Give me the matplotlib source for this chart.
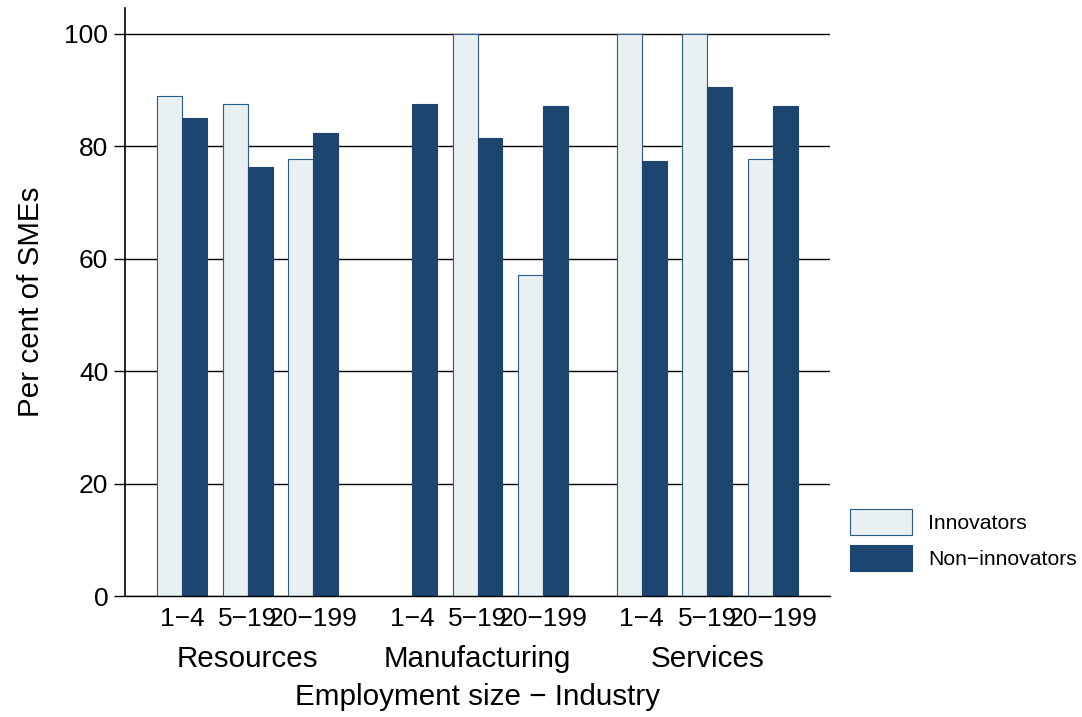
import matplotlib
matplotlib.use("Agg")
import matplotlib.pyplot as plt
import matplotlib.transforms as mtransforms
import numpy as np

plt.rcParams['font.family'] = ['Liberation Sans', 'DejaVu Sans']

industries = ["Resources", "Manufacturing", "Services"]
sizes = ["1\u22124", "5\u221219", "20\u2212199"]
innovators = [88.9, 87.5, 77.8, np.nan, 100.0, 57.1, 100.0, 100.0, 77.8]
non_innovators = [85.0, 76.3, 82.4, 87.5, 81.5, 87.2, 77.4, 90.5, 87.2]

light = "#e8f0f2"
dark = "#1c4670"
edge = "#2c5b8a"

# positions: three bars per group, 1.5 gap between groups
pos = []
for g in range(len(industries)):
    for s in range(len(sizes)):
        pos.append(g * 3.5 + s)
pos = np.array(pos)
w = 0.38

fig = plt.figure(figsize=(10.82, 7.17), dpi=100)
ax = fig.add_axes([125 / 1082, 1 - 596 / 717, 705 / 1082, 588 / 717])

b1 = ax.bar(pos - w / 2, innovators, w, color=light, edgecolor=edge, linewidth=0.8,
            label="Innovators", zorder=3)
b2 = ax.bar(pos + w / 2, non_innovators, w, color=dark, edgecolor=dark, linewidth=0.8,
            label="Non\u2212innovators", zorder=3)

ax.set_xlim(-0.87, 9.87)
ax.set_ylim(0, 104.6)
ax.set_yticks([0, 20, 40, 60, 80, 100])
ax.yaxis.grid(True, color="black", linewidth=1.0)
ax.set_axisbelow(True)
ax.tick_params(axis='y', labelsize=19, length=8, width=1.0, pad=4)
ax.tick_params(axis='x', labelsize=19, length=0, pad=8)
ax.set_xticks(pos)
ax.set_xticklabels(sizes * len(industries))

for side in ["top", "right"]:
    ax.spines[side].set_visible(False)
ax.spines["bottom"].set_color("black")
ax.spines["bottom"].set_linewidth(1.0)
ax.spines["bottom"].set_zorder(4)
ax.spines["left"].set_linewidth(1.2)

ax.set_ylabel("Per cent of SMEs", fontsize=21.3, labelpad=14)

trans = mtransforms.blended_transform_factory(ax.transData, fig.transFigure)
for g, name in enumerate(industries):
    ax.text(g * 3.5 + 1, 1 - 659 / 717, name, transform=trans, fontsize=21.3,
            ha="center", va="center")
fig.text(477.5 / 1082, 1 - 697 / 717, "Employment size \u2212 Industry", fontsize=21.3,
         ha="center", va="center")

fig.legend(handles=[b1, b2], loc="upper left", bbox_to_anchor=(850 / 1082, 1 - 509 / 717),
           frameon=False, fontsize=15.2, handlelength=2.95, handleheight=1.55,
           handletextpad=0.75, labelspacing=0.45, borderpad=0, borderaxespad=0)

fig.savefig("out.png", dpi=100)
